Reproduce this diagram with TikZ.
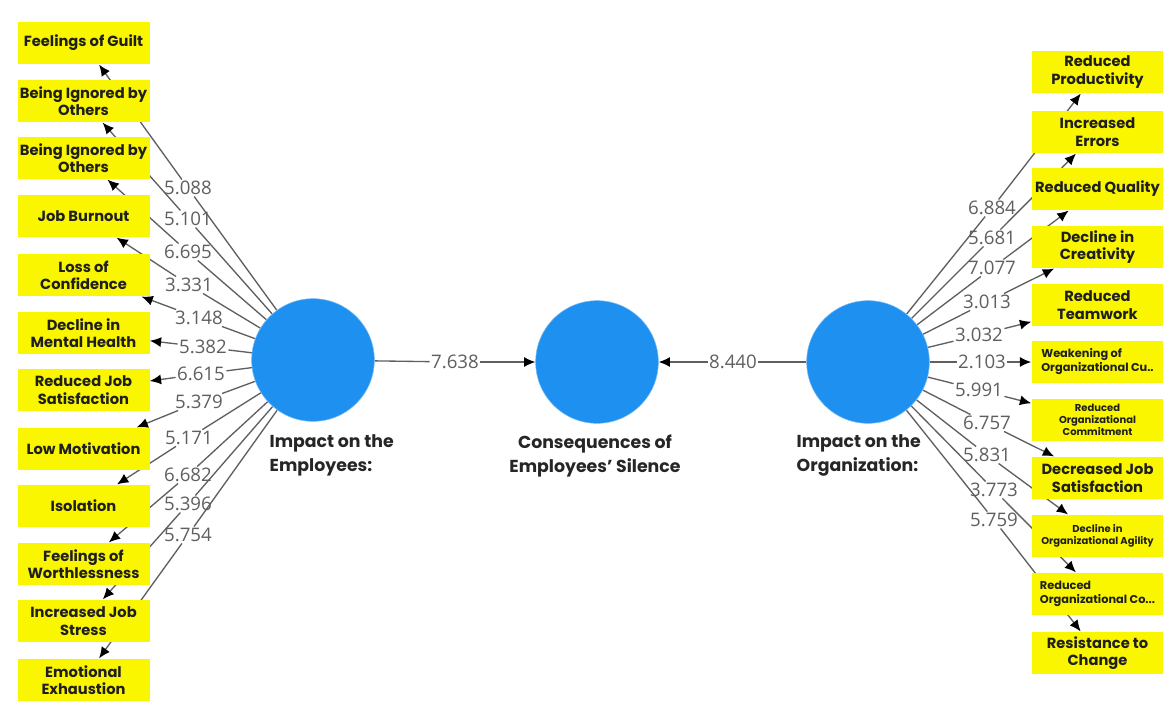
\documentclass[tikz,border=0pt]{standalone}
\usepackage{fontspec}
\setmainfont{Poppins}
\newfontfamily\numfont{Open Sans}
\usetikzlibrary{arrows.meta, positioning}
\definecolor{boxyellow}{RGB}{250,246,0}
\definecolor{lvblue}{RGB}{30,144,240}
\definecolor{pathgray}{RGB}{95,95,95}
\pgfdeclarelayer{background}
\pgfsetlayers{background,main}

\begin{document}
\begin{tikzpicture}[x=0.75pt, y=-0.75pt,
  ind/.style={rectangle, fill=boxyellow, minimum width=99pt, minimum height=32pt, inner sep=1pt, align=center, text=black!88, font=\fontsize{11}{13}\selectfont\bfseries},
  small/.style={font=\fontsize{8.5}{10.5}\selectfont\bfseries},
  tiny/.style={font=\fontsize{7.5}{9}\selectfont\bfseries},
  lv/.style={circle, fill=lvblue, draw=lvblue!60, minimum size=92pt, inner sep=0pt},
  lvname/.style={font=\fontsize{13}{18}\selectfont\bfseries, text=black!85},
  tval/.style={font=\numfont\fontsize{14}{14}\selectfont, text=pathgray, inner sep=1pt},
  link/.style={draw=pathgray, line width=1pt},
  arr/.style={link, -{Latex[length=8.5pt, width=7.5pt, color=black]}}]
\useasboundingbox (0,0) rectangle (1163,700);

% latent variables
\node[lv] (emp) at (313,360) {};
\node[lv] (cons) at (597,362) {};
\node[lv] (org) at (868,362) {};
\node[lvname, anchor=north west, align=left] (empname) at (265,430) {Impact on the\\Employees:};
\node[lvname, anchor=north, align=center] (consname) at (595,430) {Consequences of\\Employees’ Silence};
\node[lvname, anchor=north west, align=left] (orgname) at (792,430) {Impact on the\\Organization:};

% inner model
\node[tval] (m1) at (455,362) {7.638};
\node[tval] (m2) at (733,362) {8.440};

% indicators of the employees
\node[ind] (e1) at (83.5,43) {Feelings of Guilt};
\node[ind] (e2) at (83.5,101) {Being Ignored by\\Others};
\node[ind] (e3) at (83.5,158) {Being Ignored by\\Others};
\node[ind] (e4) at (83.5,216) {Job Burnout};
\node[ind] (e5) at (83.5,275) {Loss of\\Confidence};
\node[ind] (e6) at (83.5,333) {Decline in\\Mental Health};
\node[ind] (e7) at (83.5,390) {Reduced Job\\Satisfaction};
\node[ind] (e8) at (83.5,449) {Low Motivation};
\node[ind] (e9) at (83.5,506) {Isolation};
\node[ind] (e10) at (83.5,564) {Feelings of\\Worthlessness};
\node[ind] (e11) at (83.5,621) {Increased Job\\Stress};
\node[ind] (e12) at (83.5,680) {Emotional\\Exhaustion};

\node[tval] (te1) at (188,188) {5.088};
\node[tval] (te2) at (188,219) {5.101};
\node[tval] (te3) at (188,252) {6.695};
\node[tval] (te4) at (189,285) {3.331};
\node[tval] (te5) at (199,318) {3.148};
\node[tval] (te6) at (203,347) {5.382};
\node[tval] (te7) at (201,374) {6.615};
\node[tval] (te8) at (199,402) {5.379};
\node[tval] (te9) at (189,438) {5.171};
\node[tval] (te10) at (188,475) {6.682};
\node[tval] (te11) at (188,504) {5.396};
\node[tval] (te12) at (188,535) {5.754};

% indicators of the organization
\node[ind] (o1) at (1097.5,72) {Reduced\\Productivity};
\node[ind] (o2) at (1097.5,132) {Increased\\Errors};
\node[ind] (o3) at (1097.5,189) {Reduced Quality};
\node[ind] (o4) at (1097.5,247) {Decline in\\Creativity};
\node[ind] (o5) at (1097.5,305) {Reduced\\Teamwork};
\node[ind, small, align=left] (o6) at (1097.5,362) {Weakening of\\Organizational Cu..};
\node[ind, tiny] (o7) at (1097.5,420) {Reduced\\Organizational\\Commitment};
\node[ind] (o8) at (1097.5,478) {Decreased Job\\Satisfaction};
\node[ind, tiny] (o9) at (1097.5,536) {Decline in\\Organizational Agility};
\node[ind, small, align=left] (o10) at (1097.5,594) {Reduced\\Organizational Co...};
\node[ind] (o11) at (1097.5,653) {Resistance to\\Change};

\node[tval] (to1) at (992,208) {6.884};
\node[tval] (to2) at (992,238) {5.681};
\node[tval] (to3) at (992,268) {7.077};
\node[tval] (to4) at (987,302) {3.013};
\node[tval] (to5) at (979,335) {3.032};
\node[tval] (to6) at (982,362) {2.103};
\node[tval] (to7) at (979,390) {5.991};
\node[tval] (to8) at (987,423) {6.757};
\node[tval] (to9) at (987,455) {5.831};
\node[tval] (to10) at (994,490) {3.773};
\node[tval] (to11) at (994,520) {5.759};

\begin{pgfonlayer}{background}
\draw[link] (emp) -- (m1);
\draw[arr] (m1) -- (cons);
\draw[link] (org) -- (m2);
\draw[arr] (m2) -- (cons);

\draw[link] (emp) -- (te1);  \draw[arr] (te1) -- (e1);
\draw[link] (emp) -- (te2);  \draw[arr] (te2) -- (e2);
\draw[link] (emp) -- (te3);  \draw[arr] (te3) -- (e3);
\draw[link] (emp) -- (te4);  \draw[arr] (te4) -- (e4);
\draw[link] (emp) -- (te5);  \draw[arr] (te5) -- (e5);
\draw[link] (emp) -- (te6);  \draw[arr] (te6) -- (e6);
\draw[link] (emp) -- (te7);  \draw[arr] (te7) -- (e7);
\draw[link] (emp) -- (te8);  \draw[arr] (te8) -- (e8);
\draw[link] (emp) -- (te9);  \draw[arr] (te9) -- (e9);
\draw[link] (emp) -- (te10); \draw[arr] (te10) -- (e10);
\draw[link] (emp) -- (te11); \draw[arr] (te11) -- (e11);
\draw[link] (emp) -- (te12); \draw[arr] (te12) -- (e12);

\draw[link] (org) -- (to1);  \draw[arr] (to1) -- (o1);
\draw[link] (org) -- (to2);  \draw[arr] (to2) -- (o2);
\draw[link] (org) -- (to3);  \draw[arr] (to3) -- (o3);
\draw[link] (org) -- (to4);  \draw[arr] (to4) -- (o4);
\draw[link] (org) -- (to5);  \draw[arr] (to5) -- (o5);
\draw[link] (org) -- (to6);  \draw[arr] (to6) -- (o6);
\draw[link] (org) -- (to7);  \draw[arr] (to7) -- (o7);
\draw[link] (org) -- (to8);  \draw[arr] (to8) -- (o8);
\draw[link] (org) -- (to9);  \draw[arr] (to9) -- (o9);
\draw[link] (org) -- (to10); \draw[arr] (to10) -- (o10);
\draw[link] (org) -- (to11); \draw[arr] (to11) -- (o11);
\end{pgfonlayer}
\end{tikzpicture}
\end{document}
